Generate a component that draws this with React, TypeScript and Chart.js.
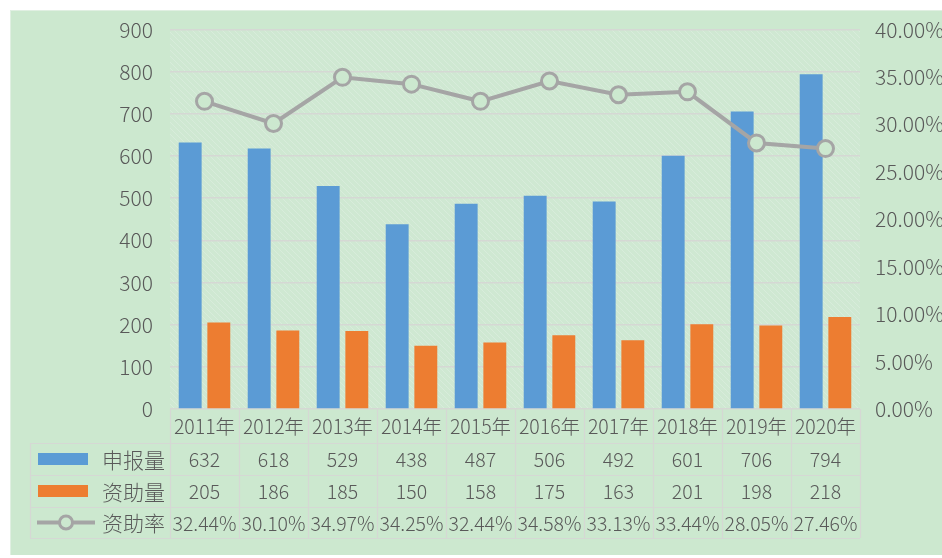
import React, { useEffect, useRef } from "react";
import { Chart, registerables } from "chart.js";

Chart.register(...registerables);

const categories = ["2011年", "2012年", "2013年", "2014年", "2015年", "2016年", "2017年", "2018年", "2019年", "2020年"];
const applied = [632, 618, 529, 438, 487, 506, 492, 601, 706, 794];
const funded = [205, 186, 185, 150, 158, 175, 163, 201, 198, 218];
const rateLabels = ["32.44%", "30.10%", "34.97%", "34.25%", "32.44%", "34.58%", "33.13%", "33.44%", "28.05%", "27.46%"];
const rates = [0.3244, 0.301, 0.3497, 0.3425, 0.3244, 0.3458, 0.3313, 0.3344, 0.2805, 0.2746];
const seriesNames = ["申报量", "资助量", "资助率"];

const BLUE = "#5B9BD5";
const ORANGE = "#ED7D31";
const GRAY = "#A5A5A5";
const TEXT = "#595959";
const BG = "#CCE8CF";
const GRID = "#d5d8d4";
const FONT = "'Noto Sans CJK SC', 'Noto Sans', sans-serif";

const tablePlugin = {
  id: "dataTable",
  beforeDraw(chart: any) {
    const { ctx, chartArea } = chart;
    const pc = document.createElement("canvas");
    pc.width = 6;
    pc.height = 6;
    const p = pc.getContext("2d")!;
    p.fillStyle = "#cfe8d2";
    p.fillRect(0, 0, 6, 6);
    p.strokeStyle = "rgba(255,255,255,0.2)";
    p.lineWidth = 1;
    p.beginPath();
    p.moveTo(0, 0);
    p.lineTo(6, 6);
    p.moveTo(-3, 3);
    p.lineTo(3, 9);
    p.moveTo(3, -3);
    p.lineTo(9, 3);
    p.stroke();
    const pat = ctx.createPattern(pc, "repeat");
    ctx.save();
    ctx.fillStyle = pat;
    ctx.fillRect(chartArea.left, chartArea.top, chartArea.right - chartArea.left, chartArea.bottom - chartArea.top);
    ctx.restore();
  },
  afterDraw(chart: any) {
    const { ctx, chartArea, scales } = chart;
    const x = scales.x;
    const n = categories.length;
    const step = (chartArea.right - chartArea.left) / n;
    const top = chartArea.bottom;
    const rowTops = [top, top + 34, top + 66, top + 98, top + 129];
    const tableLeft = 30;
    ctx.save();
    ctx.strokeStyle = GRID;
    ctx.lineWidth = 1.2;
    for (let i = 0; i <= n; i++) {
      const xx = Math.round(chartArea.left + i * step) + 0.5;
      ctx.beginPath();
      ctx.moveTo(xx, rowTops[0]);
      ctx.lineTo(xx, rowTops[4]);
      ctx.stroke();
    }
    ctx.beginPath();
    ctx.moveTo(tableLeft + 0.5, rowTops[1]);
    ctx.lineTo(tableLeft + 0.5, rowTops[4]);
    ctx.stroke();
    for (let r = 1; r <= 4; r++) {
      const yy = Math.round(rowTops[r]) + 0.5;
      ctx.beginPath();
      ctx.moveTo(tableLeft, yy);
      ctx.lineTo(chartArea.right, yy);
      ctx.stroke();
    }
    ctx.fillStyle = TEXT;
    ctx.textAlign = "center";
    ctx.textBaseline = "middle";
    ctx.font = `300 19.5px ${FONT}`;
    const rowsData = [categories, applied.map(String), funded.map(String), rateLabels];
    for (let r = 0; r < 4; r++) {
      const cy = (rowTops[r] + rowTops[r + 1]) / 2;
      for (let i = 0; i < n; i++) {
        const cx = x.getPixelForValue(i);
        ctx.fillText(rowsData[r][i], cx, cy + 1);
      }
    }
    ctx.textAlign = "left";
    for (let r = 1; r <= 3; r++) {
      const cy = (rowTops[r] + rowTops[r + 1]) / 2;
      if (r === 1 || r === 2) {
        ctx.fillStyle = r === 1 ? BLUE : ORANGE;
        ctx.fillRect(38, cy - 6, 50, 12);
      } else {
        ctx.strokeStyle = GRAY;
        ctx.lineWidth = 4;
        ctx.beginPath();
        ctx.moveTo(37, cy);
        ctx.lineTo(95, cy);
        ctx.stroke();
        ctx.fillStyle = BG;
        ctx.lineWidth = 3;
        ctx.beginPath();
        ctx.arc(66, cy, 6.5, 0, Math.PI * 2);
        ctx.fill();
        ctx.stroke();
      }
      ctx.fillStyle = TEXT;
      ctx.font = `300 21px ${FONT}`;
      ctx.fillText(seriesNames[r - 1], 102, cy + 1);
    }
    ctx.restore();
  },
};

export default function App() {
  const ref = useRef<HTMLCanvasElement>(null);
  useEffect(() => {
    document.body.style.margin = "0";
    document.body.style.background = "#ffffff";
    const chart = new Chart(ref.current!, {
      type: "bar",
      data: {
        labels: categories,
        datasets: [
          {
            type: "line",
            label: seriesNames[2],
            data: rates,
            yAxisID: "y1",
            borderColor: GRAY,
            borderWidth: 4,
            pointRadius: 8,
            pointBorderWidth: 3,
            pointBackgroundColor: BG,
            pointBorderColor: GRAY,
            order: 0,
          } as any,
          {
            label: seriesNames[0],
            data: applied,
            backgroundColor: BLUE,
            yAxisID: "y",
            barPercentage: 0.8,
            categoryPercentage: 0.83,
            order: 1,
          },
          {
            label: seriesNames[1],
            data: funded,
            backgroundColor: ORANGE,
            yAxisID: "y",
            barPercentage: 0.8,
            categoryPercentage: 0.83,
            order: 1,
          },
        ],
      },
      options: {
        animation: false,
        responsive: false,
        layout: { padding: { top: 29, left: 0, right: 0, bottom: 0 } },
        plugins: { legend: { display: false }, tooltip: { enabled: false } },
        scales: {
          x: {
            grid: { display: false },
            border: { display: false },
            ticks: { display: false },
            afterFit: (s: any) => {
              s.height = 149;
            },
          },
          y: {
            position: "left",
            min: 0,
            max: 900,
            ticks: { stepSize: 100, color: TEXT, font: { size: 21, family: FONT, weight: "300" }, padding: 17 },
            grid: { color: GRID, lineWidth: 1.5, drawTicks: false },
            border: { display: false },
            afterFit: (s: any) => {
              s.width = 170;
            },
          },
          y1: {
            position: "right",
            min: 0,
            max: 0.4,
            ticks: {
              stepSize: 0.05,
              color: TEXT,
              font: { size: 21, family: FONT, weight: "300" },
              padding: 15,
              callback: (v: any) => (Number(v) * 100).toFixed(2) + "%",
            },
            grid: { display: false, drawTicks: false },
            border: { display: false },
            afterFit: (s: any) => {
              s.width = 82;
            },
          },
        },
      },
      plugins: [tablePlugin],
    });
    return () => chart.destroy();
  }, []);
  return (
    <div style={{ position: "relative", width: 942, height: 558, background: "#fff", overflow: "hidden" }}>
      <div style={{ position: "absolute", left: 10, top: 10, right: 0, bottom: 3, background: BG, borderLeft: "1px solid #e0efe2", borderTop: "1px solid #e0efe2" }} />
      <canvas ref={ref} width={942} height={558} style={{ position: "absolute", left: 0, top: 0 }} />
    </div>
  );
}
